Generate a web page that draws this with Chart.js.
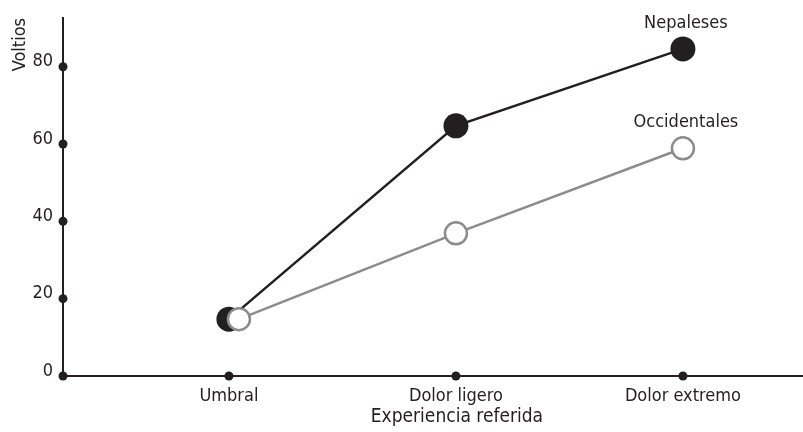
<!DOCTYPE html>
<html>
<head>
<meta charset="utf-8">
<script src="https://cdn.jsdelivr.net/npm/chart.js@4.4.1/dist/chart.umd.min.js"></script>
<style>
  html,body{margin:0;padding:0;background:#fff;}
  #wrap{width:803px;height:432px;}
</style>
</head>
<body>
<div id="wrap"><canvas id="c"></canvas></div>
<script>
// ---- data ----
const categories = ["Umbral", "Dolor ligero", "Dolor extremo"];
const nepaleses = [14.7, 64.7, 84.6];
const occidentales = [14.7, 36.9, 58.9];
const yTicks = [0, 20, 40, 60, 80];
const yTitle = "Voltios";
const xTitle = "Experiencia referida";

const ink = "#231f20";
const grey = "#8c8c8c";
const fam = "'DejaVu Sans Condensed', 'DejaVu Sans', sans-serif";

const toPts = arr => arr.map((v, i) => ({x: i + 1, y: v}));

// small dodge so the two Umbral markers do not sit exactly on top of each other
const dodge = 10;

const decor = {
  id: "decor",
  afterDatasetsUpdate(chart) {
    const m = chart.getDatasetMeta(1);
    if (m.data[0]) m.data[0].x += dodge;
  },
  afterDraw(chart) {
    const ctx = chart.ctx, x = chart.scales.x, y = chart.scales.y;
    const area = chart.chartArea;
    ctx.save();
    ctx.fillStyle = ink;
    // dots on the axes
    yTicks.forEach(v => {
      ctx.beginPath(); ctx.arc(area.left, y.getPixelForValue(v), 4.5, 0, Math.PI*2); ctx.fill();
    });
    categories.forEach((c, i) => {
      ctx.beginPath(); ctx.arc(x.getPixelForValue(i+1), area.bottom, 4.5, 0, Math.PI*2); ctx.fill();
    });
    // series names over the last point
    ctx.font = "18px " + fam;
    ctx.textAlign = "center";
    ctx.textBaseline = "middle";
    chart.data.datasets.forEach((ds, di) => {
      const pts = chart.getDatasetMeta(di).data;
      const p = pts[pts.length-1];
      ctx.fillText(ds.label, p.x + 3, p.y - 26);
    });
    // x axis title, centred under the middle category
    ctx.font = "19px " + fam;
    ctx.textBaseline = "alphabetic";
    ctx.fillText(xTitle, x.getPixelForValue(2) + 1, 422);
    ctx.restore();
  }
};

new Chart(document.getElementById("c"), {
  type: "line",
  data: {
    datasets: [
      {label: "Nepaleses", data: toPts(nepaleses), borderColor: ink, borderWidth: 2.5,
       pointRadius: 12.5, pointBackgroundColor: ink, pointBorderWidth: 0, order: 1},
      {label: "Occidentales", data: toPts(occidentales), borderColor: grey, borderWidth: 2.5,
       pointRadius: 11, pointBackgroundColor: "#fff", pointBorderColor: grey, pointBorderWidth: 2.5, order: 0}
    ]
  },
  options: {
    responsive: true, maintainAspectRatio: false, animation: false,
    layout: {autoPadding: false, padding: {top: 18, right: 0, bottom: 0, left: 0}},
    plugins: {legend: {display: false}, tooltip: {enabled: false}},
    scales: {
      x: {
        type: "linear", min: 0.269, max: 3.529,
        grid: {display: false, drawTicks: false},
        border: {display: true, color: ink, width: 2},
        afterBuildTicks: s => { s.ticks = categories.map((c, i) => ({value: i + 1})); },
        afterFit: s => { s.height = 56; s.paddingLeft = 0; s.paddingRight = 0; },
        ticks: {
          color: ink, padding: 10, font: {family: fam, size: 18},
          callback: v => categories[v - 1]
        }
      },
      y: {
        min: 0, max: 92.6,
        grid: {display: false, drawTicks: false},
        border: {display: true, color: ink, width: 2},
        afterBuildTicks: s => { s.ticks = yTicks.map(v => ({value: v})); },
        afterFit: s => { s.width = 63; s.paddingTop = 0; s.paddingBottom = 0; },
        ticks: {color: ink, padding: 10, labelOffset: -5, font: {family: fam, size: 18}},
        title: {display: true, text: yTitle, align: "end", color: ink,
                font: {family: fam, size: 18}, padding: {top: 10, bottom: 0}}
      }
    }
  },
  plugins: [decor]
});
</script>
</body>
</html>
